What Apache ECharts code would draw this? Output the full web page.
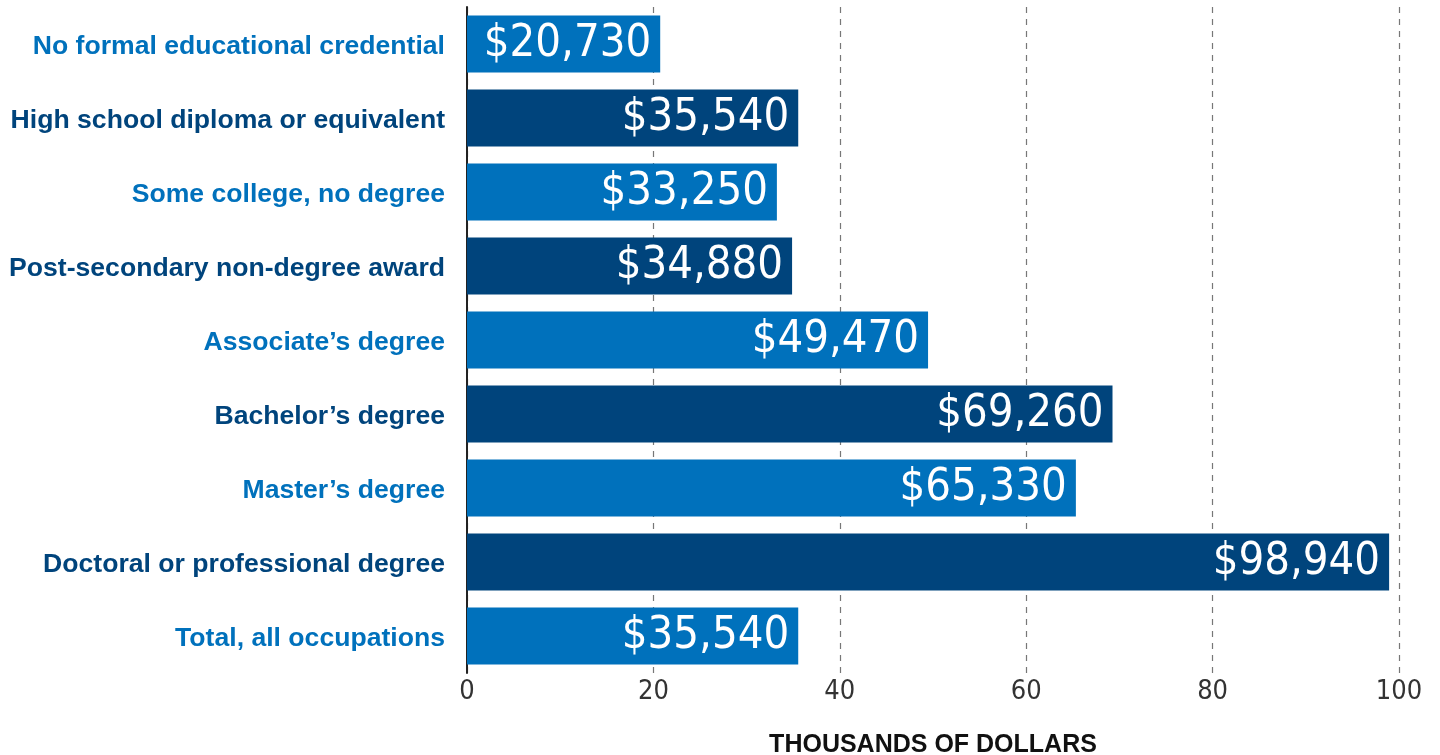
<!DOCTYPE html>
<html>
<head>
<meta charset="utf-8">
<script src="https://cdn.jsdelivr.net/npm/echarts@6/dist/echarts.min.js"></script>
<style>
  html, body { margin: 0; padding: 0; background: #fff; }
  #chart { width: 1440px; height: 755px; }
</style>
</head>
<body>
<div id="chart"></div>
<script>
  // categories, top to bottom
  const categories = [
    "No formal educational credential",
    "High school diploma or equivalent",
    "Some college, no degree",
    "Post-secondary non-degree award",
    "Associate\u2019s degree",
    "Bachelor\u2019s degree",
    "Master\u2019s degree",
    "Doctoral or professional degree",
    "Total, all occupations"
  ];
  // median earnings, thousands of dollars
  const earnings = [20.73, 35.54, 33.25, 34.88, 49.47, 69.26, 65.33, 98.94, 35.54];
  const xTicks = [0, 20, 40, 60, 80, 100];

  const lightBlue = "#0071bc";
  const darkBlue = "#00447c";
  const narrow = "Liberation Sans Narrow, DejaVu Sans Condensed, sans-serif";

  let myChart = echarts.init(document.getElementById("chart"));
  myChart.setOption({
    animation: false,
    grid: {
      left: 467,
      right: 41,
      top: 7,
      bottom: 82,
      outerBoundsMode: "none",
      containLabel: false
    },
    xAxis: {
      type: "value",
      min: xTicks[0],
      max: xTicks[xTicks.length - 1],
      interval: 20,
      name: "THOUSANDS OF DOLLARS",
      nameLocation: "middle",
      nameGap: 60,
      nameTextStyle: {
        fontFamily: "Liberation Sans",
        fontWeight: "bold",
        fontSize: 25,
        color: "#111"
      },
      axisLine: { show: false },
      axisTick: { show: false },
      axisLabel: {
        margin: 5,
        fontFamily: narrow,
        fontSize: 27,
        color: "#333"
      },
      splitLine: {
        show: true,
        lineStyle: { color: "#777", type: [6, 6], width: 1.2 }
      }
    },
    yAxis: {
      type: "category",
      inverse: true,
      data: categories,
      axisLine: { show: true, lineStyle: { color: "#222", width: 2 } },
      axisTick: { show: false },
      axisLabel: {
        margin: 22,
        fontFamily: "Liberation Sans",
        fontWeight: "bold",
        fontSize: 26.6,
        lineHeight: 34,
        verticalAlign: "top",
        padding: [-14, 0, 0, 0],
        color: function (value, index) {
          return index % 2 === 0 ? lightBlue : darkBlue;
        }
      }
    },
    series: [
      {
        type: "bar",
        barCategoryGap: "23%",
        data: earnings.map(function (v, i) {
          return {
            value: v,
            itemStyle: { color: i % 2 === 0 ? lightBlue : darkBlue }
          };
        }),
        label: {
          show: true,
          position: "insideRight",
          distance: 9,
          fontFamily: narrow,
          fontSize: 45,
          color: "#fff",
          formatter: function (p) {
            return "$" + Math.round(p.value * 1000).toLocaleString("en-US");
          }
        }
      }
    ]
  });
</script>
</body>
</html>
